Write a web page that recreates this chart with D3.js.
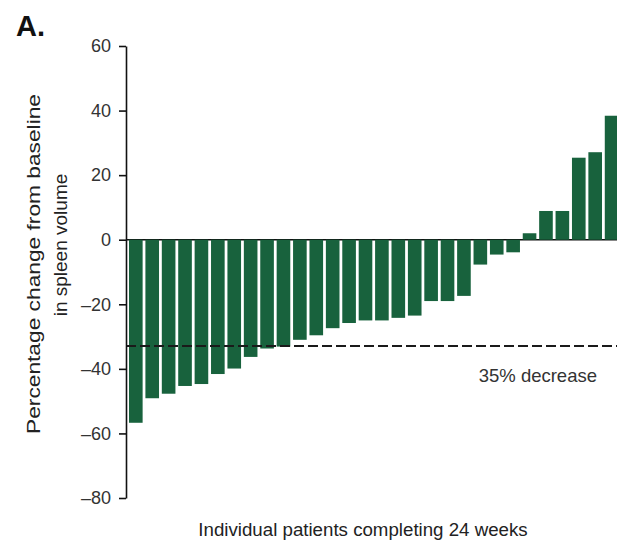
<!DOCTYPE html>
<html>
<head>
<meta charset="utf-8">
<script src="https://cdn.jsdelivr.net/npm/d3@7"></script>
<style>
  html, body { margin: 0; padding: 0; background: #fff; }
  svg { display: block; font-family: "Liberation Sans", Arial, sans-serif; }
</style>
</head>
<body>
<svg id="chart" width="617" height="544"></svg>
<script>
// ---- data ----
const patients = d3.range(1, 31).map(i => "P" + i);
const changes = [-56.7, -49.1, -47.7, -45.3, -44.7, -41.6, -39.9, -36.3, -33.7, -33.1,
                 -31.0, -29.6, -27.4, -25.8, -25.0, -25.0, -24.2, -23.5, -19.0, -19.0,
                 -17.4, -7.7, -4.6, -3.9, 2.0, 8.9, 8.9, 25.4, 27.1, 38.4];
const yTicks = [60, 40, 20, 0, -20, -40, -60, -80];
const thresholdValue = [-32.9];
const thresholdLabel = ["35% decrease"];
const panelLabel = ["A."];
const yLabelLines = ["Percentage change from baseline", "in spleen volume"];
const xLabel = ["Individual patients completing 24 weeks"];

const svg = d3.select("#chart");
const green = "#18623d";
const ink = "#222";

const x = d3.scaleBand().domain(patients).range([129, 618.4]).paddingInner(0.17).paddingOuter(0);
const y = d3.scaleLinear().domain([-80, 60]).range([498, 46]);
const axisX = 126;
const rightEdge = 617;

// zero line (behind bars)
svg.append("line")
  .attr("x1", axisX).attr("x2", rightEdge)
  .attr("y1", y(0)).attr("y2", y(0))
  .attr("stroke", "#111").attr("stroke-width", 1.5);

// bars
svg.append("g").selectAll("rect")
  .data(changes)
  .join("rect")
  .attr("x", (d, i) => x(patients[i]))
  .attr("width", x.bandwidth())
  .attr("y", d => y(Math.max(0, d)))
  .attr("height", d => Math.abs(y(d) - y(0)))
  .attr("fill", green);

// threshold dashed line
svg.append("line")
  .attr("x1", axisX).attr("x2", rightEdge)
  .attr("y1", y(thresholdValue[0])).attr("y2", y(thresholdValue[0]))
  .attr("stroke", "#1a1a1a").attr("stroke-width", 2)
  .attr("stroke-dasharray", "10,4");

svg.append("text")
  .attr("x", 597).attr("y", 382)
  .attr("text-anchor", "end")
  .attr("font-size", 18.5)
  .attr("fill", "#333")
  .text(thresholdLabel[0]);

// y axis
const yAxis = d3.axisLeft(y).tickValues(yTicks).tickSize(7).tickSizeOuter(0)
  .tickFormat(d => d < 0 ? "\u2013" + Math.abs(d) : String(d));
const gy = svg.append("g").attr("transform", `translate(${axisX},0)`).call(yAxis);
gy.select(".domain").attr("stroke", "#111").attr("stroke-width", 1.6);
gy.selectAll(".tick line").attr("stroke", "#111").attr("stroke-width", 1.6);
gy.selectAll(".tick text")
  .attr("font-size", 18)
  .attr("font-family", "\"Liberation Sans\", Arial, sans-serif")
  .attr("fill", "#333")
  .attr("x", -15);

// y label (two lines)
svg.append("text")
  .attr("transform", "translate(40,264) rotate(-90)")
  .attr("text-anchor", "middle")
  .attr("font-size", 19)
  .attr("fill", ink)
  .attr("textLength", 340)
  .attr("lengthAdjust", "spacingAndGlyphs")
  .text(yLabelLines[0]);
svg.append("text")
  .attr("transform", "translate(67,245) rotate(-90)")
  .attr("text-anchor", "middle")
  .attr("font-size", 19)
  .attr("fill", ink)
  .text(yLabelLines[1]);

// x label
svg.append("text")
  .attr("x", 363).attr("y", 536)
  .attr("text-anchor", "middle")
  .attr("font-size", 18.7)
  .attr("fill", ink)
  .text(xLabel[0]);

// panel label
svg.append("text")
  .attr("x", 16).attr("y", 36)
  .attr("font-size", 29)
  .attr("font-weight", "bold")
  .attr("fill", "#111")
  .text(panelLabel[0]);
</script>
</body>
</html>
